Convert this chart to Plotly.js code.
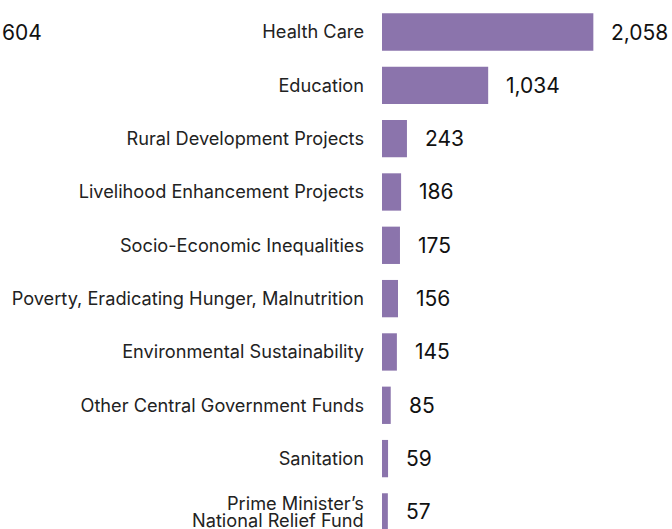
<!DOCTYPE html>
<html>
<head>
<meta charset="utf-8">
<script src="https://cdn.plot.ly/plotly-3.0.1.min.js"></script>
<style>html,body{margin:0;padding:0;background:#fff;}#chart{width:672px;height:529px;}</style>
</head>
<body>
<div id="chart"></div>
<script>
const categories = [
  "Health Care",
  "Education",
  "Rural Development Projects",
  "Livelihood Enhancement Projects",
  "Socio-Economic Inequalities",
  "Poverty, Eradicating Hunger, Malnutrition",
  "Environmental Sustainability",
  "Other Central Government Funds",
  "Sanitation",
  "Prime Minister’s<br>National Relief Fund"
];
const values = [2058, 1034, 243, 186, 175, 156, 145, 85, 59, 57];
const valueLabels = values.map(v => v.toLocaleString("en-US"));
const croppedLabel = "604";

const purple = "#8b74ac";
const labelFont = {family: "Inter, sans-serif", size: 18.2, color: "#222"};
const valueFont = {family: "Inter, sans-serif", size: 21, color: "#111"};

const trace = {
  type: "bar",
  orientation: "h",
  x: values,
  y: categories,
  marker: {color: purple},
  width: 0.7,
  hoverinfo: "none"
};

const annotations = values.map((v, i) => ({
  x: v, y: categories[i], xref: "x", yref: "y",
  text: valueLabels[i], showarrow: false,
  xanchor: "left", yanchor: "middle", xshift: 16,
  font: valueFont
}));
annotations.push({
  x: 0, y: categories[0], xref: "paper", yref: "y",
  text: croppedLabel, showarrow: false, xanchor: "left", yanchor: "middle",
  xshift: -382,
  font: valueFont
});
// multi-line category labels drawn line by line (tight line spacing)
categories.forEach((c, i) => {
  if (!c.includes("<br>")) return;
  const lines = c.split("<br>");
  lines.forEach((ln, k) => {
    annotations.push({
      x: 0, y: c, xref: "x", yref: "y", text: ln, showarrow: false,
      xanchor: "right", yanchor: "middle", height: 16,
      xshift: -16, yshift: 9 - 17 * k,
      font: labelFont
    });
  });
});

const layout = {
  width: 672, height: 529,
  margin: {l: 382, r: 0, t: 0, b: 0, pad: 0},
  paper_bgcolor: "#fff", plot_bgcolor: "#fff",
  showlegend: false,
  xaxis: {range: [0, 2824], showgrid: false, zeroline: false, showticklabels: false, showline: false, fixedrange: true},
  yaxis: {
    type: "category", range: [9.32, -0.6], autorange: false,
    tickmode: "array", tickvals: categories,
    ticktext: categories.map(c => c.includes("<br>") ? "" : c),
    showgrid: false, zeroline: false, showline: false, ticks: "",
    ticklabelstandoff: 17,
    tickfont: labelFont,
    fixedrange: true
  },
  annotations: annotations
};

Plotly.newPlot("chart", [trace], layout, {displayModeBar: false, staticPlot: true});
</script>
</body>
</html>
